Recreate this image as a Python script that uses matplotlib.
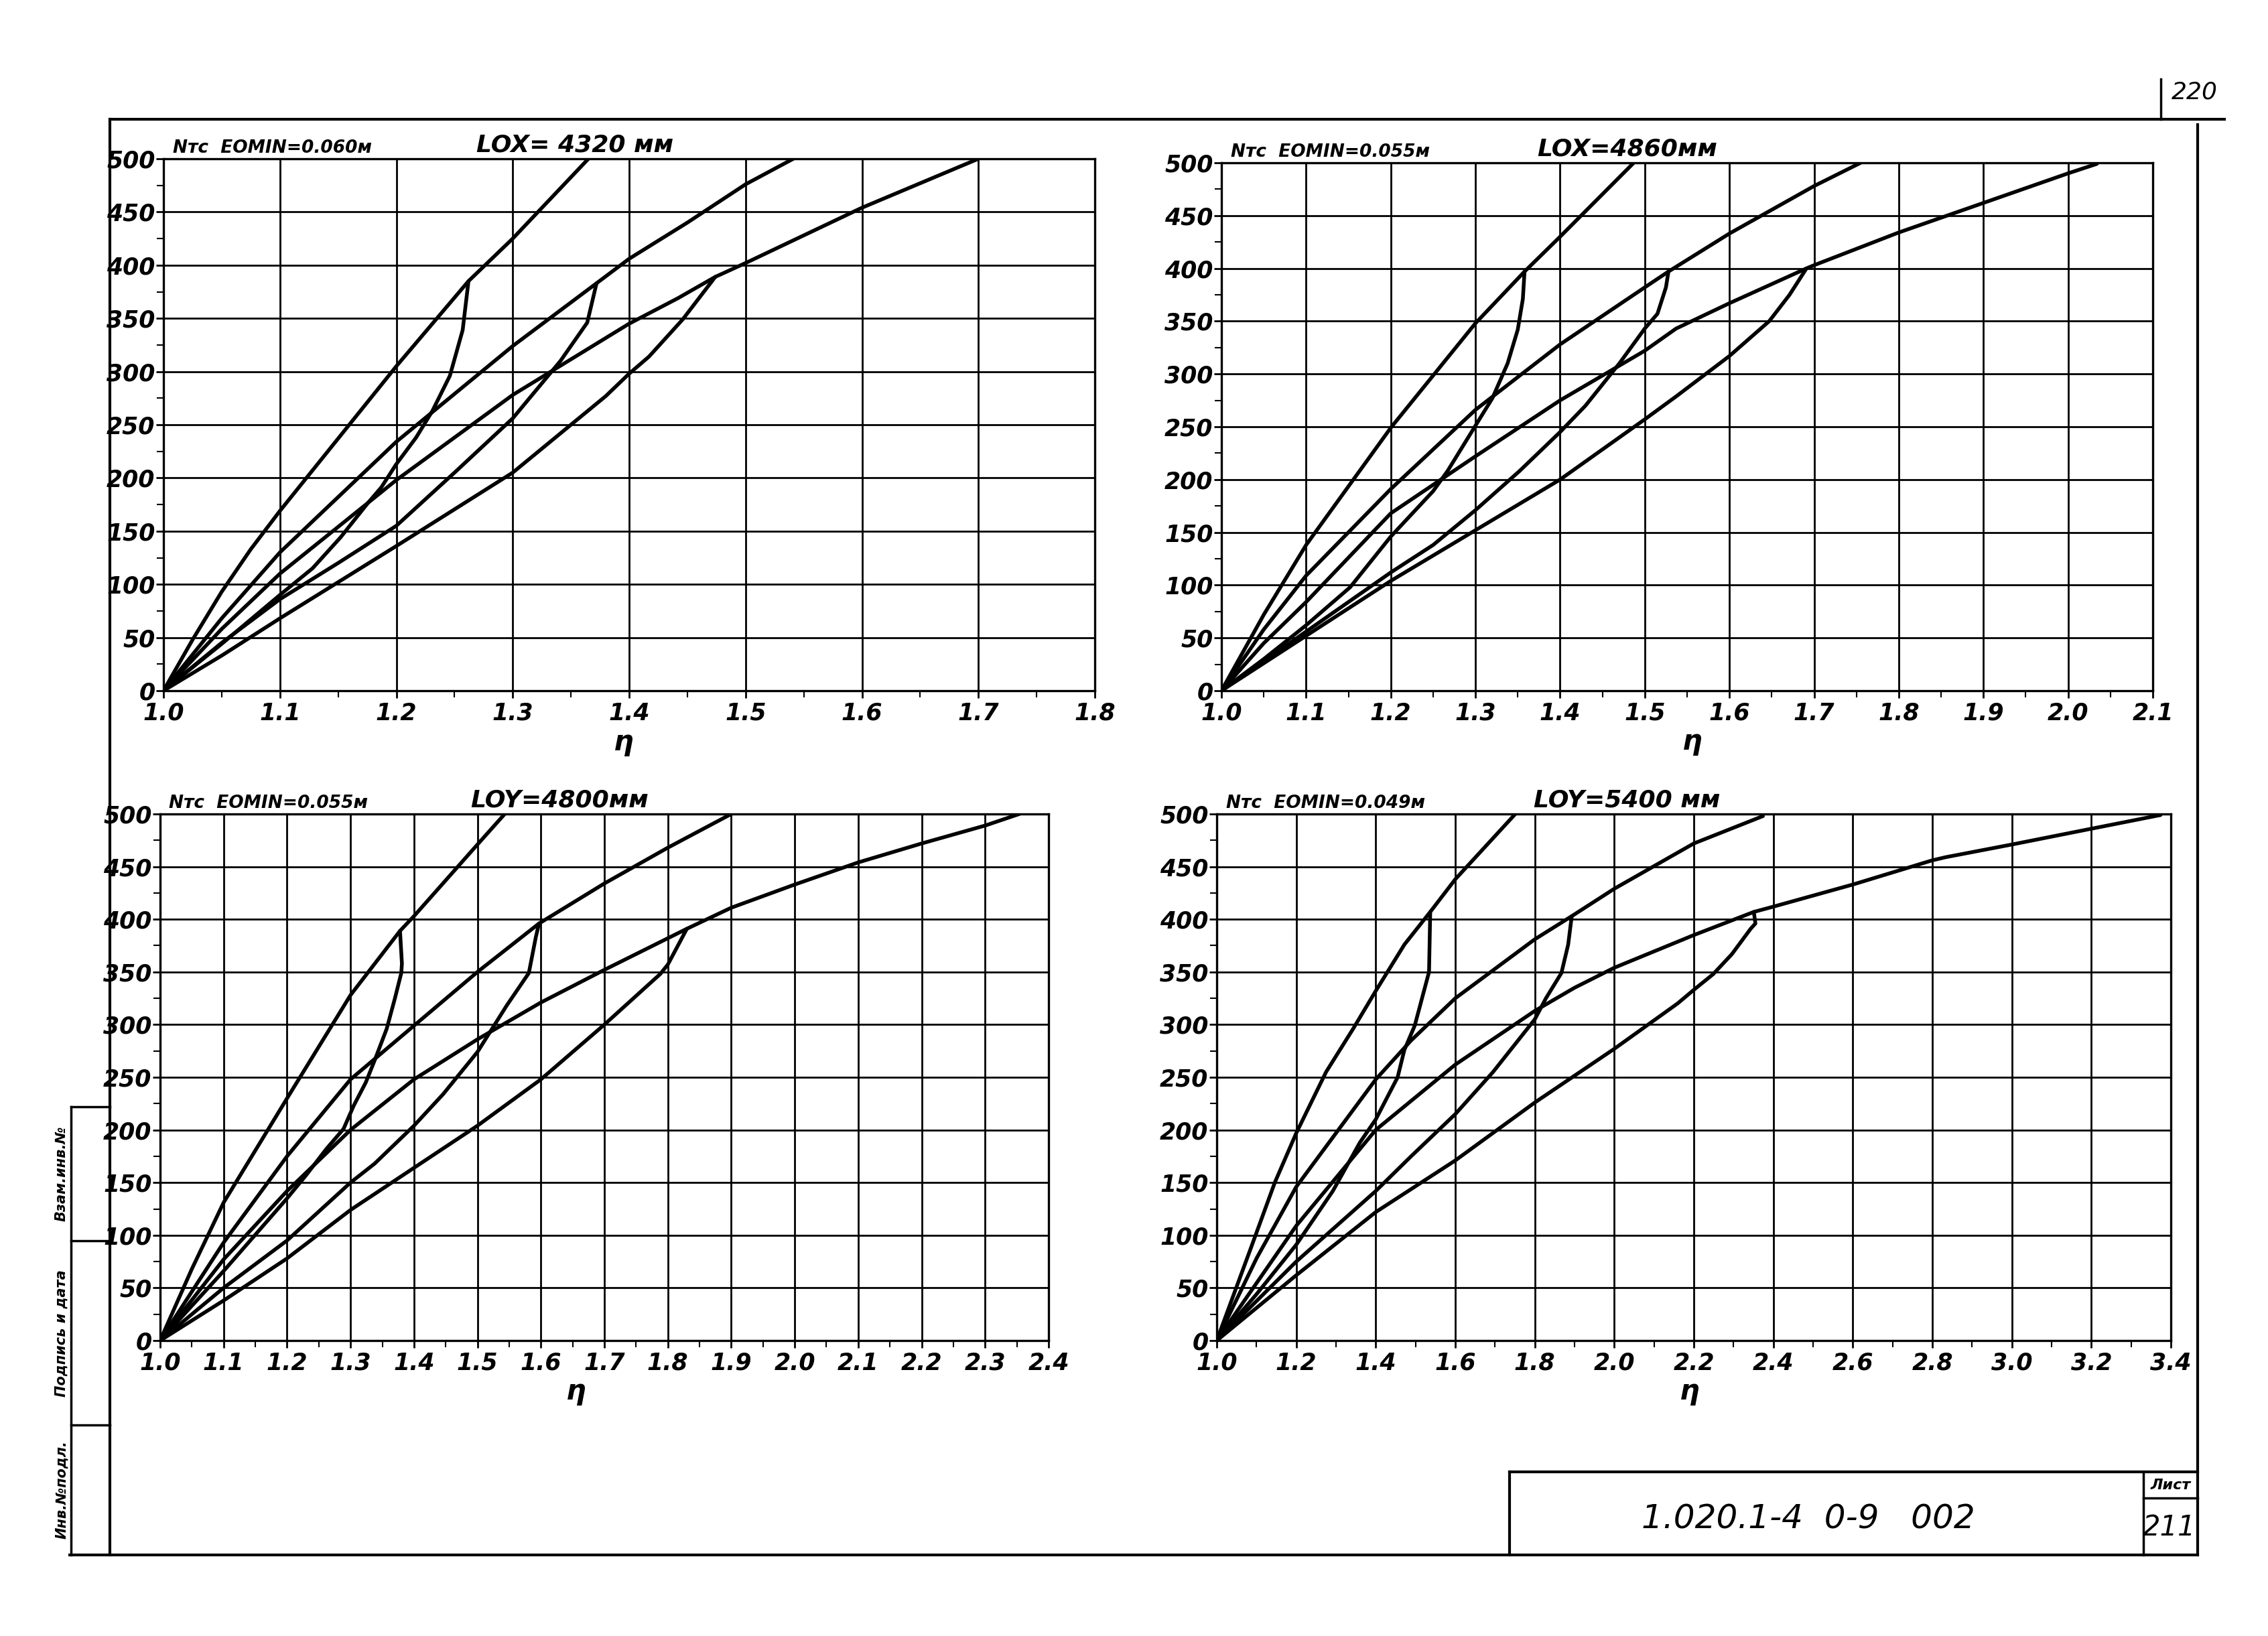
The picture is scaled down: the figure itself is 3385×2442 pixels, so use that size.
import numpy as np
import matplotlib.pyplot as plt
from matplotlib.lines import Line2D
import matplotlib.transforms as mtransforms

plt.rcParams['font.family'] = ['DejaVu Sans']

W, H = 3385, 2442

# ---------- panel 1: LOX = 4320 mm ----------
p1_u1_x = [1.0, 1.025, 1.05, 1.075, 1.1, 1.15, 1.2, 1.262, 1.3, 1.365]
p1_u1_y = [0, 48, 93, 133, 169, 237, 305, 385, 425, 500]
p1_l1_x = [1.262, 1.257, 1.246, 1.231, 1.217, 1.2, 1.187, 1.176, 1.152, 1.128, 1.1, 1.05, 1.0]
p1_l1_y = [385, 339, 296, 263, 238, 213, 191, 177, 144, 115, 90, 44, 0]
p1_u2_x = [1.0, 1.05, 1.1, 1.2, 1.3, 1.372, 1.4, 1.45, 1.5, 1.541]
p1_u2_y = [0, 68, 130, 234, 324, 383, 406, 440, 476, 500]
p1_l2_x = [1.372, 1.364, 1.341, 1.3, 1.25, 1.2, 1.15, 1.1, 1.05, 1.0]
p1_l2_y = [383, 346, 310, 256, 205, 155, 120, 86, 45, 0]
p1_u3_x = [1.0, 1.05, 1.1, 1.2, 1.3, 1.4, 1.442, 1.474, 1.5, 1.6, 1.7]
p1_u3_y = [0, 58, 110, 198, 278, 345, 369, 389, 402, 454, 500]
p1_l3_x = [1.474, 1.446, 1.417, 1.4, 1.38, 1.3, 1.2, 1.1, 1.05, 1.0]
p1_l3_y = [389, 349, 314, 298, 277, 205, 136, 68, 33, 0]

# ---------- panel 2: LOX = 4860 mm ----------
p2_u1_x = [1.0, 1.05, 1.1, 1.2, 1.3, 1.358, 1.4, 1.487]
p2_u1_y = [0, 72, 138, 249, 348, 397, 430, 500]
p2_l1_x = [1.358, 1.356, 1.35, 1.338, 1.32, 1.3, 1.267, 1.25, 1.2, 1.152, 1.1, 1.05, 1.0]
p2_l1_y = [397, 371, 342, 310, 277, 251, 208, 189, 146, 98, 62, 30, 0]
p2_u2_x = [1.0, 1.05, 1.1, 1.2, 1.3, 1.4, 1.5, 1.528, 1.6, 1.7, 1.755]
p2_u2_y = [0, 58, 109, 191, 266, 328, 382, 397, 433, 478, 500]
p2_l2_x = [1.528, 1.525, 1.515, 1.5, 1.47, 1.43, 1.4, 1.352, 1.3, 1.25, 1.2, 1.1, 1.0]
p2_l2_y = [397, 382, 357, 343, 310, 270, 245, 208, 171, 138, 112, 56, 0]
p2_u3_x = [1.0, 1.05, 1.1, 1.2, 1.3, 1.4, 1.5, 1.537, 1.6, 1.691, 1.7, 1.8, 1.9, 2.0, 2.034]
p2_u3_y = [0, 45, 84, 168, 222, 275, 322, 343, 367, 400, 403, 434, 462, 490, 499]
p2_l3_x = [1.691, 1.671, 1.647, 1.6, 1.5375, 1.5, 1.4, 1.3, 1.2, 1.1, 1.0]
p2_l3_y = [400, 375, 350, 317, 279, 257, 200, 152, 104, 52, 0]

# ---------- panel 3: LOY = 4800 mm ----------
p3_u1_x = [1.0, 1.05, 1.1, 1.2, 1.3, 1.378, 1.4, 1.5, 1.543]
p3_u1_y = [0, 68, 131, 230, 328, 389, 403, 471, 500]
p3_l1_x = [1.378, 1.381, 1.38, 1.37, 1.357, 1.338, 1.324, 1.305, 1.289, 1.262, 1.23, 1.2, 1.1, 1.0]
p3_l1_y = [389, 358, 349, 325, 296, 266, 245, 223, 201, 182, 157, 135, 66, 0]
p3_u2_x = [1.0, 1.1, 1.2, 1.3, 1.4, 1.5, 1.597, 1.7, 1.8, 1.9]
p3_u2_y = [0, 93, 175, 248, 299, 350, 396, 434, 468, 500]
p3_l2_x = [1.597, 1.592, 1.581, 1.546, 1.5, 1.446, 1.4, 1.338, 1.3, 1.2, 1.1, 1.0]
p3_l2_y = [396, 383, 349, 318, 274, 234, 204, 168, 150, 95, 50, 0]
p3_u3_x = [1.0, 1.1, 1.2, 1.3, 1.4, 1.5, 1.6, 1.7, 1.83, 1.9, 2.0, 2.1, 2.2, 2.3, 2.354]
p3_u3_y = [0, 77, 142, 200, 248, 286, 321, 352, 391, 411, 433, 454, 472, 489, 500]
p3_l3_x = [1.83, 1.8, 1.788, 1.7, 1.6, 1.5, 1.4, 1.3, 1.2, 1.1, 1.0]
p3_l3_y = [391, 357, 348, 300, 248, 204, 164, 124, 78, 38, 0]

# ---------- panel 4: LOY = 5400 mm ----------
p4_u1_x = [1.0, 1.086, 1.146, 1.2, 1.275, 1.343, 1.4, 1.472, 1.537, 1.6, 1.751]
p4_u1_y = [0, 88, 150, 197, 255, 296, 332, 376, 407, 438, 500]
p4_l1_x = [1.537, 1.534, 1.498, 1.472, 1.455, 1.4, 1.36, 1.292, 1.2, 1.1, 1.0]
p4_l1_y = [407, 350, 299, 276, 250, 210, 188, 142, 91, 44, 0]
p4_u2_x = [1.0, 1.1, 1.2, 1.4, 1.489, 1.6, 1.8, 1.893, 2.0, 2.2, 2.374]
p4_u2_y = [0, 78, 146, 248, 285, 325, 381, 403, 429, 472, 498]
p4_l2_x = [1.893, 1.884, 1.867, 1.828, 1.8, 1.695, 1.6, 1.489, 1.4, 1.2, 1.0]
p4_l2_y = [403, 376, 349, 325, 305, 255, 215, 175, 142, 75, 0]
p4_u3_x = [1.0, 1.2, 1.4, 1.6, 1.8, 1.9, 2.0, 2.2, 2.351, 2.4, 2.6, 2.8, 2.834, 3.0, 3.2, 3.374]
p4_u3_y = [0, 109, 200, 262, 313, 335, 354, 385, 407, 412, 433, 456, 459, 471, 486, 499]
p4_l3_x = [2.351, 2.355, 2.343, 2.296, 2.249, 2.2, 2.159, 2.0, 1.8, 1.6, 1.4, 1.2, 1.0]
p4_l3_y = [407, 396, 391, 367, 348, 333, 320, 277, 226, 171, 122, 62, 0]

panel_titles = ['Nтс  EOMIN=0.060м', 'Nтс  EOMIN=0.055м', 'Nтс  EOMIN=0.055м', 'Nтс  EOMIN=0.049м']
panel_lengths = ['LOX= 4320 мм', 'LOX=4860мм', 'LOY=4800мм', 'LOY=5400 мм']
length_label_x = [1.269, 1.373, 1.489, 1.797]
eta_x = [1.395, 1.556, 1.655, 2.19]
x_limits = [(1.0, 1.8), (1.0, 2.1), (1.0, 2.4), (1.0, 3.4)]
x_steps = [0.1, 0.1, 0.1, 0.2]
y_ticks = list(range(0, 501, 50))

panels = [
    [(p1_u1_x, p1_u1_y), (p1_l1_x, p1_l1_y), (p1_u2_x, p1_u2_y),
     (p1_l2_x, p1_l2_y), (p1_u3_x, p1_u3_y), (p1_l3_x, p1_l3_y)],
    [(p2_u1_x, p2_u1_y), (p2_l1_x, p2_l1_y), (p2_u2_x, p2_u2_y),
     (p2_l2_x, p2_l2_y), (p2_u3_x, p2_u3_y), (p2_l3_x, p2_l3_y)],
    [(p3_u1_x, p3_u1_y), (p3_l1_x, p3_l1_y), (p3_u2_x, p3_u2_y),
     (p3_l2_x, p3_l2_y), (p3_u3_x, p3_u3_y), (p3_l3_x, p3_l3_y)],
    [(p4_u1_x, p4_u1_y), (p4_l1_x, p4_l1_y), (p4_u2_x, p4_u2_y),
     (p4_l2_x, p4_l2_y), (p4_u3_x, p4_u3_y), (p4_l3_x, p4_l3_y)],
]

# axes boxes in pixels: left, top, right, bottom
boxes = [(244, 237, 1634, 1031), (1823, 243, 3213, 1031),
         (239, 1215, 1565, 2001), (1816, 1215, 3240, 2001)]

hand = dict(fontstyle='oblique', fontweight='bold', color='black')

fig = plt.figure(figsize=(W / 100, H / 100), dpi=100)
fig.patch.set_facecolor('white')


def fx(x):
    return x / W


def fy(y):
    return 1 - y / H


for i, (l, t, r, b) in enumerate(boxes):
    ax = fig.add_axes([fx(l), fy(b), fx(r) - fx(l), fy(t) - fy(b)])
    x0, x1 = x_limits[i]
    step = x_steps[i]
    xt = np.round(np.arange(x0, x1 + step / 2, step), 2)
    xm = np.round(np.arange(x0 + step / 2, x1, step), 3)
    ax.set_xlim(x0, x1)
    ax.set_ylim(0, 500)
    ax.set_xticks(xt)
    ax.set_xticklabels([f'{v:.1f}' for v in xt], fontsize=25, **hand)
    ax.set_xticks(xm, minor=True)
    ax.set_yticks(y_ticks)
    ax.set_yticklabels([str(v) for v in y_ticks], fontsize=25, **hand)
    ax.set_yticks(np.arange(25, 500, 50), minor=True)
    ax.tick_params(axis='both', which='major', direction='out', length=8, width=2, pad=4)
    ax.tick_params(axis='y', which='major', pad=1)
    ax.tick_params(axis='both', which='minor', direction='out', length=7, width=1.5)
    ax.grid(True, which='major', color='black', linewidth=2.0)
    for s in ax.spines.values():
        s.set_linewidth(2.4)
    for cx, cy in panels[i]:
        ax.plot(cx, cy, color='black', linewidth=4.0, solid_capstyle='round',
                solid_joinstyle='round')
    ax.text(x0 + 0.01 * (x1 - x0), 502, panel_titles[i], fontsize=19,
            ha='left', va='bottom', **hand)
    ax.text(length_label_x[i], 502, panel_lengths[i], fontsize=26,
            ha='left', va='bottom', **hand)
    trans = mtransforms.blended_transform_factory(ax.transData, ax.transAxes)
    ax.text(eta_x[i], -0.07, 'η', transform=trans, fontsize=30,
            ha='center', va='top', **hand)


def hline(x0, x1, y, lw=3):
    fig.add_artist(Line2D([fx(x0), fx(x1)], [fy(y), fy(y)], color='black', linewidth=lw))


def vline(x, y0, y1, lw=3):
    fig.add_artist(Line2D([fx(x), fx(x)], [fy(y0), fy(y1)], color='black', linewidth=lw))


# drawing frame
hline(164, 3320, 178)
vline(164, 178, 2321)
vline(3280, 186, 2321)
hline(104, 3280, 2321)
vline(3225, 118, 178, lw=2.5)
fig.text(fx(3275), fy(138), '220', fontsize=26, fontstyle='oblique', ha='center', va='center')

# title block
hline(2253, 3280, 2197)
vline(2253, 2197, 2321)
vline(3199, 2197, 2321, lw=2.5)
hline(3199, 3280, 2236, lw=2.5)
fig.text(fx(2699), fy(2267), '1.020.1-4  0-9   002', fontsize=36,
         fontstyle='oblique', ha='center', va='center')
fig.text(fx(3240), fy(2217), 'Лист', fontsize=16, ha='center', va='center', **hand)
fig.text(fx(3238), fy(2280), '211', fontsize=30, fontstyle='oblique', ha='center', va='center')

# left stamp
vline(106, 1652, 2321, lw=2.5)
for yy in [1652, 1852, 2127]:
    hline(106, 164, yy, lw=2.5)
stamp = [('Взам.инв.№', 1752), ('Подпись и дата', 1990), ('Инв.№подл.', 2224)]
for txt, yy in stamp:
    fig.text(fx(92), fy(yy), txt, fontsize=15, rotation=90, ha='center', va='center', **hand)

fig.savefig('out.png', dpi=100, facecolor='white')
